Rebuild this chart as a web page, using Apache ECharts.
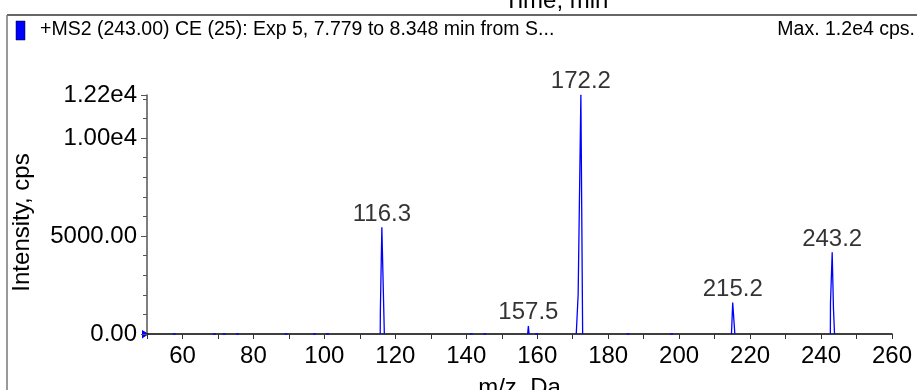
<!DOCTYPE html>
<html>
<head>
<meta charset="utf-8">
<script src="https://cdn.jsdelivr.net/npm/echarts@6/dist/echarts.min.js"></script>
<style>
    html, body { margin: 0; padding: 0; background: #fff; }
    #chart { width: 917px; height: 390px; }
</style>
</head>
<body>
<div id="chart"></div>
<script>
// peak profiles: [m/z, intensity]
const peak116 = [[115.74, 0], [115.78, 1150], [116.2, 5430], [116.9, 0]];
const peak157 = [[157.3, 0], [157.5, 400], [157.7, 0]];
const peak172 = [[171.0, 0], [171.45, 60], [171.53, 2000], [172.3, 12200], [172.8, 0]];
const peak215 = [[214.75, 0], [215.1, 1590], [215.7, 0]];
const peak243 = [[242.62, 0], [242.66, 1580], [243.14, 4155], [243.5, 1300], [243.8, 0]];

// tiny blips on the baseline
const noiseMz = [57.7, 69.0, 71.8, 75.5, 89.2, 97.2, 100.9, 141.4, 145.2, 159.8, 185.6, 197.9];
const noiseIntensity = [40, 30, 30, 40, 30, 40, 30, 30, 30, 30, 30, 30];

// labelled peaks
const apexMz = [116.2, 157.5, 172.3, 215.1, 243.14];
const apexIntensity = [5430, 400, 12200, 1590, 4155];
const apexLabels = ['116.3', '157.5', '172.2', '215.2', '243.2'];

// axis labels
const xTickLabels = [60, 80, 100, 120, 140, 160, 180, 200, 220, 240, 260];
const yTickValues = [0, 5000, 10000, 12200];
const yTickLabels = ['0.00', '5000.00', '1.00e4', '1.22e4'];

const FONT = 'Liberation Sans, Arial, sans-serif';
const BLUE = '#0000ff';

// build the line with gaps between the peaks
let spectrum = [];
[peak116, peak157, peak172, peak215, peak243].forEach(p => {
    p.forEach(pt => spectrum.push(pt));
    spectrum.push([p[p.length - 1][0] + 0.01, '-']);
});
noiseMz.forEach((mz, i) => {
    spectrum.push([mz - 0.4, 0]);
    spectrum.push([mz, noiseIntensity[i]]);
    spectrum.push([mz + 0.4, 0]);
    spectrum.push([mz + 0.41, '-']);
});

const chart = echarts.init(document.getElementById('chart'));

const option = {
    animation: false,
    textStyle: { fontFamily: FONT },
    grid: { left: 147, right: 25, top: 95, bottom: 56, outerBoundsMode: 'none', containLabel: false },
    xAxis: {
        type: 'value',
        min: 50,
        max: 260,
        interval: 10,
        name: 'm/z, Da',
        nameLocation: 'middle',
        nameGap: 42,
        nameTextStyle: { fontSize: 24, color: '#000', fontFamily: FONT },
        axisLine: { lineStyle: { color: '#000', width: 1.5 } },
        axisTick: { length: 5, lineStyle: { color: '#333' } },
        axisLabel: {
            margin: 10,
            fontSize: 24,
            color: '#000',
            fontFamily: FONT,
            formatter: v => xTickLabels.includes(v) ? String(v) : ''
        },
        splitLine: { show: false }
    },
    yAxis: [{
        type: 'value',
        min: 0,
        max: 12200,
        interval: 1000,
        name: 'Intensity, cps',
        nameLocation: 'middle',
        nameGap: 113,
        nameTextStyle: { fontSize: 24, color: '#000', fontFamily: FONT, padding: [0, 16, 0, 0] },
        axisLine: { show: true, lineStyle: { color: '#555', width: 1.5 } },
        axisTick: { show: true, length: 4, lineStyle: { color: '#555' } },
        axisLabel: {
            margin: 10,
            fontSize: 24,
            color: '#000',
            fontFamily: FONT,
            formatter: v => {
                let i = yTickValues.indexOf(v);
                return i >= 0 ? yTickLabels[i] : '';
            }
        },
        splitLine: { show: false }
    }, {
        type: 'value',
        min: 0,
        max: 12200,
        interval: 5000,
        position: 'left',
        axisLine: { show: false },
        axisTick: { show: true, length: 6, lineStyle: { color: '#555' } },
        axisLabel: { show: false },
        splitLine: { show: false }
    }],
    series: [{
        type: 'line',
        data: spectrum,
        symbol: 'none',
        connectNulls: false,
        lineStyle: { color: BLUE, width: 1.3 },
        z: 3
    }, {
        type: 'scatter',
        data: apexMz.map((mz, i) => ({
            value: [mz, apexIntensity[i]],
            label: { formatter: apexLabels[i] }
        })),
        symbol: 'circle',
        symbolSize: 1,
        itemStyle: { color: BLUE },
        label: {
            show: true,
            position: 'top',
            distance: 1,
            fontSize: 24,
            color: '#000',
            textBorderWidth: 0,
            textBorderColor: 'transparent',
            fontFamily: FONT
        },
        silent: true,
        z: 4
    }],
    graphic: [
        // cut-off title of the panel above
        { type: 'text', left: 504, top: -11, style: { text: 'Time, min', font: '24px ' + FONT, fill: '#000' } },
        // frame
        { type: 'line', shape: { x1: 7, y1: 15, x2: 917, y2: 15 }, style: { stroke: '#333', lineWidth: 1.5 } },
        { type: 'line', shape: { x1: 7, y1: 15, x2: 7, y2: 390 }, style: { stroke: '#777', lineWidth: 1.5 } },
        // header
        { type: 'rect', shape: { x: 16, y: 21, width: 9, height: 19 }, style: { fill: BLUE, stroke: '#000', lineWidth: 0.5 } },
        { type: 'text', x: 40, y: 30, style: { text: '+MS2 (243.00) CE (25): Exp 5, 7.779 to 8.348 min from S...', font: '19.5px ' + FONT, fill: '#000', verticalAlign: 'middle' } },
        { type: 'text', x: 915, y: 30, style: { text: 'Max. 1.2e4 cps.', font: '19.5px ' + FONT, fill: '#000', align: 'right', verticalAlign: 'middle' } },
        // baseline marker
        { type: 'polygon', shape: { points: [[142, 330], [149, 334], [142, 338.5]] }, style: { fill: BLUE } }
    ]
};

chart.setOption(option);
window.onresize = function () {
    chart.resize();
};
</script>
</body>
</html>
